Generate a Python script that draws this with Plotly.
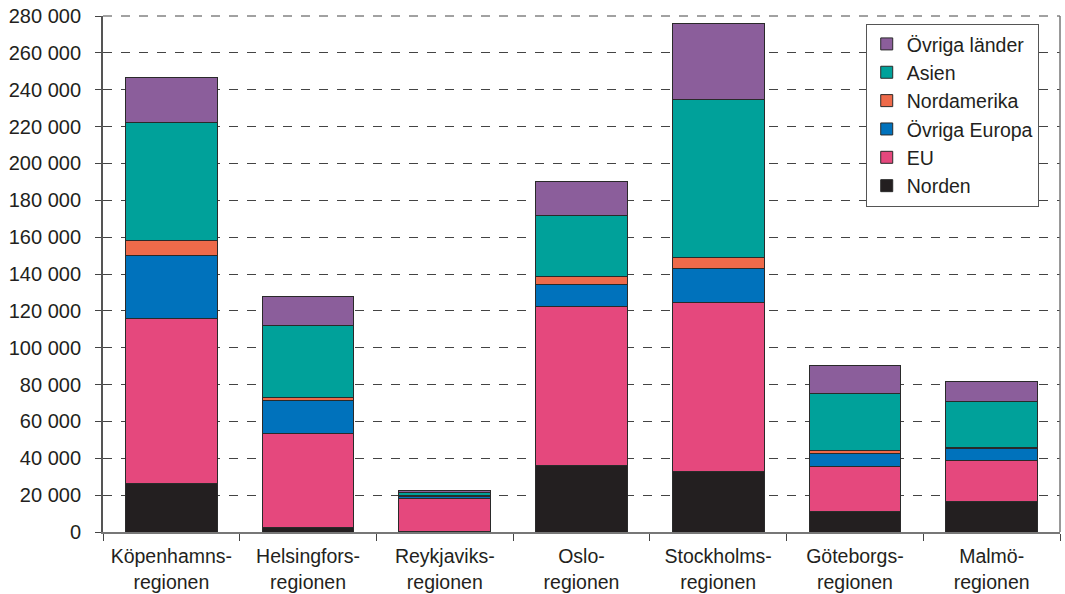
import plotly.graph_objects as go

regions = ["Köpenhamns-<br>regionen", "Helsingfors-<br>regionen", "Reykjaviks-<br>regionen",
           "Oslo-<br>regionen", "Stockholms-<br>regionen", "Göteborgs-<br>regionen", "Malmö-<br>regionen"]

norden = [26300, 2300, 500, 35900, 32600, 10900, 16400]
eu = [89600, 51300, 17800, 86500, 91800, 24800, 22400]
ovriga_europa = [34400, 17500, 800, 11800, 18400, 6700, 6300]
nordamerika = [7700, 2000, 500, 4300, 6400, 1800, 900]
asien = [64000, 38700, 2000, 33100, 85600, 31000, 24900]
ovriga_lander = [24800, 16200, 1100, 18400, 40900, 15200, 10500]

series = [
    ("Norden", norden, "#231F20"),
    ("EU", eu, "#E5487D"),
    ("Övriga Europa", ovriga_europa, "#0072BC"),
    ("Nordamerika", nordamerika, "#EE6A4A"),
    ("Asien", asien, "#00A19A"),
    ("Övriga länder", ovriga_lander, "#8B5E9B"),
]

fig = go.Figure()
for name, vals, col in series:
    fig.add_trace(go.Bar(
        x=regions, y=vals, name=name,
        marker=dict(color=col, line=dict(color="#2a2a2a", width=1)),
        width=0.67,
    ))

font_family = "Liberation Sans, Arial, sans-serif"
fig.update_layout(
    barmode="stack",
    width=1065, height=594,
    margin=dict(l=103, r=5, t=16, b=62),
    paper_bgcolor="white", plot_bgcolor="white",
    separators=", ",
    font=dict(family=font_family, size=19.5, color="#231F20"),
    showlegend=True,
    legend=dict(
        traceorder="reversed",
        x=0.797, y=0.985, xanchor="left", yanchor="top",
        bordercolor="#555", borderwidth=1, bgcolor="white",
        font=dict(size=19.5), tracegroupgap=0,
    ),
    xaxis=dict(
        type="category", automargin=False,
        showline=True, linecolor="#777", linewidth=2,
        ticks="outside", tickson="boundaries", ticklen=7, tickcolor="#444",
        ticklabelstandoff=6,
        showgrid=False,
    ),
    yaxis=dict(
        range=[0, 280000], dtick=20000, tickformat=",d", automargin=False,
        showline=True, linecolor="#555", linewidth=2,
        ticks="outside", ticklen=6, tickcolor="#444", ticklabelstandoff=10,
        tickfont=dict(size=20),
        showgrid=True, gridcolor="#444", griddash="dash", gridwidth=1,
        zeroline=False,
    ),
    shapes=[
        dict(type="line", xref="paper", yref="paper", x0=0, x1=1, y0=1, y1=1,
             line=dict(color="#444", width=1, dash="dash")),
        dict(type="line", xref="paper", yref="paper", x0=1, x1=1, y0=0, y1=1,
             line=dict(color="#777", width=1.5)),
    ],
)

fig.write_html(
    "out.html",
    config={"displayModeBar": False},
    post_script="document.body.style.margin='0px';document.body.style.overflow='hidden';",
)
